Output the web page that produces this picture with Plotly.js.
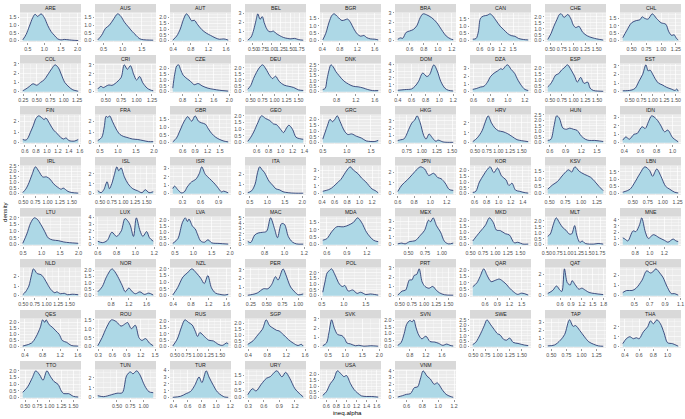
<!DOCTYPE html>
<html>
<head>
<meta charset="utf-8">
<script src="https://cdn.plot.ly/plotly-3.0.1.min.js"></script>
<style>body{margin:0;background:#fff;} #myDiv{width:685px;height:419px;}</style>
</head>
<body>
<div id="myDiv"></div>
<script>
// facet names, one density curve each
const countries = ['ARE','AUS','AUT','BEL','BGR','BRA','CAN','CHE','CHL',
  'COL','CRI','CZE','DEU','DNK','DOM','DZA','ESP','EST',
  'FIN','FRA','GBR','GEO','GRC','HKG','HRV','HUN','IDN',
  'IRL','ISL','ISR','ITA','JOR','JPN','KOR','KSV','LBN',
  'LTU','LUX','LVA','MAC','MDA','MEX','MKD','MLT','MNE',
  'NLD','NOR','NZL','PER','POL','PRT','QAR','QAT','QCH',
  'QES','ROU','RUS','SGP','SVK','SVN','SWE','TAP','THA',
  'TTO','TUN','TUR','URY','USA','VNM'];

const curveX = [
  [0.35,0.45,0.55,0.65,0.72,0.8,0.9,1.0,1.1,1.2,1.3,1.4,1.5,1.6,1.75,1.9,2.02],
  [0.35,0.45,0.55,0.65,0.75,0.87,0.95,1.05,1.15,1.25,1.35,1.45,1.55,1.7,1.8],
  [0.39,0.48,0.56,0.63,0.7,0.76,0.82,0.88,0.95,1.05,1.15,1.25,1.35,1.45,1.55,1.65],
  [0.36,0.45,0.52,0.58,0.63,0.69,0.75,0.8,0.87,0.93,1.0,1.05,1.12,1.22,1.32,1.42,1.52,1.62,1.72,1.85],
  [0.41,0.48,0.55,0.62,0.67,0.75,0.85,0.92,0.98,1.05,1.12,1.2,1.28,1.35,1.42,1.5,1.6,1.68],
  [0.43,0.47,0.5,0.55,0.6,0.65,0.7,0.75,0.79,0.84,0.91,0.98,1.07,1.12,1.18,1.22],
  [0.41,0.5,0.56,0.62,0.7,0.8,0.88,0.95,1.05,1.15,1.25,1.35,1.45,1.55,1.65,1.78,1.91],
  [0.45,0.52,0.58,0.65,0.7,0.74,0.8,0.88,0.95,1.0,1.05,1.12,1.2,1.3,1.4,1.5,1.64],
  [0.35,0.42,0.5,0.58,0.64,0.68,0.72,0.78,0.85,0.92,1.0,1.08,1.13,1.18,1.22,1.26,1.29],
  [0.24,0.3,0.36,0.43,0.5,0.57,0.64,0.7,0.78,0.84,0.9,0.96,1.02,1.1,1.17,1.27],
  [0.37,0.42,0.46,0.5,0.55,0.6,0.65,0.7,0.75,0.8,0.85,0.9,0.95,1.0,1.05,1.1,1.17,1.22,1.27],
  [0.55,0.6,0.65,0.7,0.75,0.82,0.92,1.0,1.1,1.2,1.3,1.45,1.6,1.75,1.97],
  [0.44,0.5,0.56,0.62,0.68,0.75,0.82,0.9,0.96,1.02,1.1,1.2,1.3,1.4,1.5,1.6],
  [0.51,0.56,0.6,0.64,0.68,0.73,0.78,0.85,0.95,1.05,1.15,1.25,1.35,1.45,1.55,1.67],
  [0.4,0.5,0.6,0.65,0.7,0.76,0.82,0.86,0.92,0.97,1.02,1.08,1.13,1.2],
  [0.59,0.63,0.68,0.72,0.76,0.8,0.85,0.88,0.92,0.94,0.98,1.0,1.04,1.08,1.12,1.16,1.2,1.24],
  [0.45,0.5,0.55,0.62,0.68,0.74,0.8,0.87,0.95,1.02,1.08,1.15,1.22,1.3,1.35,1.42,1.52,1.63],
  [0.35,0.45,0.55,0.62,0.7,0.78,0.85,0.9,0.94,1.0,1.05,1.12,1.2,1.3,1.4,1.48,1.52,1.55],
  [0.56,0.62,0.66,0.7,0.75,0.8,0.85,0.9,0.95,0.98,1.05,1.12,1.2,1.25,1.3,1.35,1.4,1.5,1.57],
  [0.44,0.55,0.62,0.67,0.72,0.77,0.85,0.95,1.05,1.15,1.25,1.4,1.55,1.7,1.85,1.98],
  [0.36,0.45,0.52,0.6,0.66,0.72,0.78,0.82,0.9,0.98,1.05,1.15,1.22,1.3,1.4,1.5,1.6,1.7],
  [0.45,0.5,0.55,0.62,0.68,0.75,0.82,0.88,0.93,1.0,1.05,1.1,1.14,1.2,1.26,1.32,1.38],
  [0.5,0.55,0.6,0.65,0.7,0.75,0.8,0.86,0.95,1.02,1.1,1.2,1.3,1.4,1.5,1.58,1.65],
  [0.6,0.65,0.7,0.74,0.78,0.84,0.88,0.92,0.97,1.03,1.07,1.12,1.17,1.23,1.27,1.35,1.42,1.52],
  [0.45,0.55,0.65,0.72,0.78,0.85,0.92,1.0,1.1,1.2,1.3,1.4,1.5,1.64],
  [0.56,0.62,0.68,0.73,0.78,0.85,0.92,0.98,1.05,1.12,1.2,1.28,1.35,1.45,1.55,1.62],
  [0.38,0.42,0.46,0.52,0.56,0.62,0.66,0.7,0.74,0.8,0.85,0.9,0.94,1.0,1.04,1.07],
  [0.49,0.55,0.6,0.68,0.75,0.82,0.9,0.98,1.05,1.12,1.2,1.28,1.32,1.42,1.5,1.63],
  [0.45,0.52,0.58,0.65,0.7,0.75,0.8,0.86,0.9,0.95,1.02,1.1,1.2,1.3,1.4,1.47,1.55,1.64],
  [0.14,0.17,0.22,0.28,0.33,0.38,0.45,0.52,0.58,0.62,0.68,0.75,0.82,0.88,0.95,0.98,1.06],
  [0.44,0.55,0.65,0.72,0.78,0.85,0.92,1.05,1.15,1.25,1.35,1.45,1.6,1.8,2.03],
  [0.41,0.5,0.55,0.62,0.7,0.75,0.8,0.85,0.9,0.98,1.03,1.1,1.2,1.25,1.3],
  [0.6,0.65,0.72,0.78,0.84,0.88,0.93,0.98,1.04,1.09,1.13,1.18,1.23,1.28],
  [0.57,0.62,0.68,0.75,0.8,0.86,0.92,0.98,1.05,1.12,1.17,1.22,1.28,1.35,1.42,1.49],
  [0.47,0.55,0.62,0.72,0.8,0.85,0.9,0.97,1.05,1.15,1.22,1.28,1.35],
  [0.33,0.45,0.52,0.62,0.7,0.78,0.83,0.9,0.97,1.05,1.12,1.2,1.26],
  [0.49,0.6,0.7,0.8,0.88,0.98,1.08,1.18,1.3,1.45,1.6,1.75,1.99],
  [0.6,0.65,0.7,0.75,0.8,0.85,0.89,0.94,0.98,1.01,1.05,1.08,1.12,1.15,1.19],
  [0.44,0.58,0.7,0.78,0.84,0.88,0.98,1.05,1.12,1.2,1.3,1.4,1.5,1.7,1.95],
  [0.63,0.66,0.7,0.74,0.78,0.82,0.86,0.9,0.93,0.97,1.0,1.04,1.08,1.12,1.19],
  [0.54,0.6,0.68,0.75,0.85,0.92,1.0,1.06,1.12,1.2,1.3,1.37],
  [0.34,0.4,0.45,0.52,0.6,0.68,0.74,0.8,0.83,0.87,0.92,0.98,1.04,1.1,1.17],
  [0.545,0.62,0.7,0.8,0.88,0.96,1.02,1.1,1.2,1.28,1.38,1.45,1.55,1.66],
  [0.52,0.58,0.66,0.72,0.8,0.88,0.95,1.02,1.08,1.15,1.2,1.27,1.33,1.4,1.6,1.7,1.82],
  [0.63,0.66,0.7,0.77,0.81,0.86,0.89,0.94,0.98,1.05,1.13,1.2,1.25,1.32,1.36,1.39],
  [0.49,0.55,0.62,0.68,0.72,0.8,0.88,0.95,1.02,1.1,1.18,1.22,1.3,1.38,1.45,1.55,1.68],
  [0.5,0.6,0.7,0.82,0.88,0.95,1.05,1.12,1.2,1.28,1.35,1.45,1.55,1.65,1.75],
  [0.39,0.5,0.62,0.72,0.82,0.92,1.02,1.1,1.18,1.26,1.35,1.45,1.55,1.64],
  [0.2,0.28,0.35,0.45,0.52,0.58,0.64,0.68,0.76,0.8,0.88,0.95,1.0,1.08],
  [0.52,0.57,0.62,0.67,0.72,0.8,0.9,0.97,1.02,1.1,1.2,1.3,1.38,1.5,1.6,1.7,1.78],
  [0.46,0.55,0.62,0.7,0.75,0.8,0.85,0.9,0.96,1.02,1.1,1.18,1.25,1.32,1.42,1.6],
  [0.3,0.4,0.48,0.57,0.65,0.75,0.85,0.95,1.05,1.12,1.2,1.3,1.4,1.5,1.66],
  [0.26,0.4,0.5,0.6,0.65,0.72,0.8,0.88,0.93,1.02,1.12,1.2,1.3,1.4,1.55,1.79],
  [0.35,0.4,0.47,0.52,0.6,0.66,0.71,0.74,0.78,0.83,0.87,0.93,0.98,1.02,1.07],
  [0.35,0.55,0.65,0.75,0.8,0.85,0.88,0.95,1.02,1.1,1.18,1.25,1.35,1.45,1.61],
  [0.29,0.38,0.48,0.58,0.68,0.78,0.88,0.92,1.0,1.08,1.16,1.22,1.3,1.38,1.46],
  [0.45,0.55,0.65,0.72,0.8,0.88,0.95,1.0,1.05,1.15,1.25,1.35,1.45,1.55,1.65,1.68],
  [0.39,0.5,0.6,0.7,0.78,0.85,0.92,1.0,1.05,1.15,1.25,1.35,1.45,1.52,1.56],
  [0.34,0.45,0.52,0.6,0.68,0.78,0.9,0.98,1.05,1.15,1.3,1.4,1.55,1.75,1.97],
  [0.5,0.58,0.66,0.72,0.8,0.86,0.9,0.95,1.02,1.1,1.2,1.3,1.42,1.52,1.62,1.72,1.8,1.88],
  [0.49,0.55,0.65,0.73,0.78,0.85,0.93,1.0,1.05,1.12,1.18,1.25,1.32,1.42,1.55,1.63],
  [0.44,0.55,0.65,0.72,0.8,0.86,0.9,0.97,1.05,1.12,1.2,1.28,1.36],
  [0.37,0.42,0.47,0.52,0.56,0.6,0.66,0.72,0.76,0.8,0.85,0.9,0.95,1.0,1.07,1.15],
  [0.45,0.55,0.65,0.72,0.8,0.87,0.95,1.02,1.1,1.18,1.25,1.3,1.4,1.5,1.6],
  [0.14,0.25,0.4,0.5,0.6,0.68,0.75,0.8,0.87,0.93,1.02,1.1,1.18],
  [0.39,0.5,0.58,0.64,0.7,0.76,0.8,0.86,0.9,0.96,1.02,1.08,1.12,1.17],
  [0.29,0.38,0.45,0.55,0.65,0.72,0.85,0.95,1.02,1.1,1.2,1.28,1.36],
  [0.53,0.6,0.68,0.75,0.82,0.9,0.95,1.0,1.08,1.15,1.22,1.3,1.4,1.5,1.63],
  [0.49,0.55,0.6,0.65,0.7,0.74,0.78,0.81,0.86,0.9,0.95,0.99,1.05,1.1,1.15,1.19]
];

const curveY = [
  [0.05,0.4,0.95,1.5,1.72,1.58,1.75,1.5,1.0,0.6,0.35,0.12,0.05,0.08,0.05,0.02,0.01],
  [0.05,0.35,0.8,1.0,1.35,1.75,1.6,1.2,0.9,0.6,0.35,0.12,0.06,0.04,0.03],
  [0.05,0.4,1.0,1.8,2.3,2.05,1.7,1.75,1.4,0.95,0.65,0.45,0.25,0.12,0.15,0.05],
  [0.05,0.4,1.2,2.2,2.95,2.35,2.65,2.0,1.3,1.0,1.0,1.05,0.8,0.55,0.35,0.25,0.2,0.25,0.12,0.05],
  [0.05,0.5,1.2,1.7,1.8,1.6,1.35,1.4,1.45,1.2,0.8,0.45,0.3,0.35,0.2,0.12,0.1,0.05],
  [0.15,0.3,0.25,0.9,1.05,1.2,1.6,2.5,2.9,2.8,2.5,2.0,1.0,0.5,0.2,0.1],
  [0.1,0.15,0.6,1.55,1.7,1.75,1.85,1.7,1.35,1.0,0.75,0.5,0.35,0.3,0.15,0.08,0.05],
  [0.1,0.6,1.2,1.8,2.2,2.25,1.95,2.2,1.8,1.3,1.1,1.2,0.7,0.4,0.25,0.15,0.05],
  [0.2,0.7,1.2,1.35,1.4,1.6,1.5,1.45,1.8,1.5,1.2,1.1,0.6,0.35,0.4,0.15,0.05],
  [0.1,0.3,0.55,0.85,0.7,1.0,1.3,1.8,2.5,2.9,2.6,1.8,1.0,0.5,0.2,0.05],
  [0.3,0.6,0.45,0.6,0.75,0.7,0.9,1.2,1.6,3.0,2.5,2.9,2.0,1.3,1.7,1.0,0.4,0.2,0.1],
  [0.3,1.5,2.2,2.3,1.9,1.4,1.1,0.9,0.6,0.7,0.5,0.3,0.2,0.12,0.05],
  [0.2,0.5,1.1,1.6,2.0,2.25,1.9,1.35,1.1,1.3,0.85,0.55,0.45,0.35,0.15,0.1],
  [0.2,0.3,1.2,2.0,2.5,2.3,1.9,1.5,1.0,0.7,0.5,0.45,0.35,0.2,0.1,0.1],
  [0.2,0.3,0.4,0.8,1.5,2.7,2.2,2.5,3.9,3.0,1.5,0.5,0.2,0.1],
  [0.3,0.4,0.6,0.7,1.2,2.0,2.5,2.7,3.0,2.9,3.4,3.5,2.9,2.4,1.5,0.8,0.3,0.15],
  [0.4,0.6,0.9,1.4,1.5,1.8,2.0,2.25,1.8,1.3,0.8,1.2,0.7,0.8,0.3,0.1,0.05,0.03],
  [0.1,0.12,0.2,0.4,1.2,2.0,3.1,2.4,2.5,2.0,1.5,1.0,0.8,0.5,0.3,0.15,0.3,0.05],
  [0.3,0.25,0.5,1.0,1.6,2.3,2.55,2.4,2.2,2.35,1.8,1.2,0.8,0.5,0.35,0.45,0.2,0.15,0.3],
  [0.2,0.5,1.5,2.5,2.4,2.55,2.0,1.3,0.8,0.6,0.5,0.35,0.3,0.2,0.1,0.1],
  [0.05,0.3,0.7,1.2,1.5,1.7,1.5,1.4,1.75,1.4,1.3,1.2,0.9,0.6,0.35,0.2,0.1,0.05],
  [0.1,0.4,0.8,1.5,2.0,1.8,1.65,1.4,1.35,1.0,0.75,1.1,1.3,1.0,0.4,0.3,0.25],
  [0.3,0.9,1.5,2.0,1.8,2.0,2.3,1.8,1.0,0.7,0.75,0.55,0.4,0.15,0.1,0.1,0.2],
  [0.3,0.4,0.5,1.0,1.8,2.8,3.1,3.7,2.8,1.0,0.5,1.2,0.7,0.2,0.35,0.1,0.05,0.05],
  [0.1,0.5,1.2,2.1,2.7,2.0,1.5,1.2,1.1,0.9,0.6,0.3,0.2,0.1],
  [0.2,0.3,1.5,2.4,2.2,1.3,1.2,1.3,1.2,1.1,0.6,0.3,0.2,0.2,0.15,0.1],
  [0.3,0.7,0.4,1.0,1.1,1.9,1.7,2.5,3.2,2.8,2.1,1.3,1.5,0.6,0.3,0.1],
  [0.1,0.4,0.8,1.7,2.4,2.0,1.5,1.5,1.3,0.9,0.6,0.4,0.5,0.2,0.1,0.05],
  [0.3,0.1,0.4,1.2,0.5,1.0,1.8,2.7,2.3,2.6,1.7,1.0,0.5,0.3,0.1,0.4,0.1,0.2],
  [0.6,0.9,0.5,0.1,0.2,0.8,1.4,1.7,2.4,3.2,2.3,1.8,1.3,0.8,0.2,0.3,0.1],
  [0.1,0.3,1.0,2.2,2.8,2.5,2.2,1.3,0.9,0.5,0.4,0.2,0.1,0.05,0.05],
  [0.3,0.5,0.7,1.2,1.8,2.4,3.0,3.4,3.0,2.5,2.0,1.5,0.6,0.4,0.1],
  [0.2,0.8,1.3,1.8,2.3,2.5,2.3,1.7,1.9,1.5,1.4,1.0,0.4,0.3],
  [0.1,0.2,1.0,1.6,2.0,2.3,1.8,2.2,1.5,1.2,0.7,0.9,0.3,0.2,0.1,0.05],
  [0.3,0.6,0.8,1.3,1.6,1.45,1.8,1.5,1.3,1.1,0.8,0.5,0.2],
  [0.1,0.3,0.7,1.4,1.85,1.6,1.2,1.7,1.2,0.5,0.3,0.1,0.05],
  [0.1,0.8,1.6,2.0,1.9,1.5,1.0,0.5,0.35,0.3,0.2,0.15,0.1],
  [0.5,0.3,0.6,1.8,1.2,2.0,3.8,3.0,1.2,3.9,2.0,1.2,1.9,1.0,0.5],
  [0.1,0.5,1.8,2.2,1.9,2.1,1.5,1.3,0.8,0.3,0.2,0.4,0.15,0.1,0.05],
  [0.6,0.4,1.8,2.2,2.3,2.5,5.0,3.0,1.3,3.9,3.8,1.5,0.5,0.15,0.1],
  [0.3,0.4,0.9,1.2,1.2,1.3,1.5,1.8,1.5,0.8,0.3,0.2],
  [0.1,0.2,0.1,0.4,0.5,1.2,1.8,3.1,2.9,3.4,2.4,1.6,0.4,0.1,0.2],
  [0.3,0.7,1.1,1.6,2.2,1.8,1.2,1.15,0.9,0.8,0.15,0.2,0.05,0.05],
  [0.7,0.9,1.8,2.25,1.8,1.4,1.2,0.9,0.9,1.6,0.8,0.2,0.3,0.1,0.05,0.1,0.05],
  [1.1,0.9,0.6,2.2,2.1,3.2,4.3,2.0,1.0,1.6,1.1,0.7,0.4,0.9,0.6,0.5],
  [0.1,0.4,1.0,2.2,2.8,2.3,2.2,1.8,1.2,0.6,0.3,0.4,0.2,0.25,0.1,0.15,0.1],
  [0.3,0.7,1.5,2.1,1.9,1.5,0.8,0.3,0.6,0.3,0.15,0.3,0.1,0.2,0.05],
  [0.05,0.6,1.4,1.7,2.0,1.7,1.3,0.9,1.5,0.6,0.2,0.1,0.05,0.1],
  [0.05,0.15,0.3,0.8,0.8,1.3,2.2,1.8,3.1,2.5,1.0,0.4,0.1,0.2],
  [0.3,1.2,2.0,2.2,2.35,1.8,1.0,0.8,0.9,0.4,0.5,0.2,0.3,0.1,0.15,0.1,0.05],
  [0.05,0.5,0.6,1.7,1.7,2.2,2.3,2.9,1.5,1.0,0.8,1.0,0.6,0.3,0.1,0.05],
  [0.7,1.0,1.5,2.1,1.6,1.1,1.2,1.3,1.1,0.9,0.6,0.3,0.1,0.2,0.05],
  [0.2,0.5,0.9,0.5,0.4,2.5,1.2,1.0,1.4,1.0,0.6,0.7,0.5,0.3,0.2,0.1],
  [0.3,0.5,0.5,0.7,1.5,2.4,2.2,2.3,2.6,2.2,1.8,0.8,0.2,0.2,0.05],
  [0.05,0.3,0.8,1.6,2.2,2.0,2.2,1.8,1.6,1.3,1.0,0.5,0.35,0.1,0.05],
  [0.05,0.5,1.1,1.5,1.4,1.15,1.3,1.35,1.0,1.2,0.5,0.35,0.45,0.2,0.05],
  [0.05,0.6,1.6,2.1,1.9,1.7,1.2,0.8,1.1,0.8,0.5,0.45,0.2,0.1,0.3,0.2],
  [0.2,0.5,1.0,1.5,2.3,1.8,1.6,1.4,1.35,1.0,0.6,0.3,0.1,0.2,0.05],
  [0.1,0.4,1.5,2.9,2.0,1.3,1.2,0.9,0.4,0.3,0.1,0.15,0.05,0.1,0.05],
  [0.1,0.3,1.0,1.7,2.0,1.9,2.05,1.5,0.9,0.6,0.8,0.4,0.35,0.25,0.1,0.2,0.1,0.05],
  [0.2,0.4,1.2,2.0,2.5,2.1,1.6,1.2,1.1,0.7,0.6,0.8,0.4,0.3,0.15,0.1],
  [0.1,0.2,0.8,1.5,3.3,2.5,2.6,2.0,1.2,0.6,0.3,0.1,0.05],
  [0.3,0.8,1.0,0.8,0.9,0.8,1.5,2.0,2.6,2.3,2.7,2.3,1.4,0.4,0.3,0.05],
  [0.4,0.8,1.5,2.0,1.7,1.3,2.0,1.6,1.2,1.0,0.5,0.3,0.3,0.1,0.05],
  [0.2,0.1,0.3,0.45,0.5,2.2,2.6,2.4,2.7,2.3,1.2,0.6,0.5],
  [0.05,0.2,0.6,0.9,1.8,3.0,2.2,3.9,3.0,1.8,0.8,0.3,0.1,0.05],
  [0.2,0.6,0.45,0.9,1.3,1.4,1.8,1.4,1.7,1.3,0.6,0.3,0.05],
  [0.2,0.5,1.2,1.6,2.3,2.0,1.8,1.9,1.2,0.7,0.4,0.15,0.1,0.1,0.05],
  [0.1,0.3,0.5,0.6,1.5,1.6,3.0,4.0,3.2,2.8,2.0,2.2,1.2,0.5,0.2,0.05]
];

// x axis breaks of every facet
const xTicks = [
  [0.5,1,1.5,2],[0.5,1,1.5],[0.4,0.8,1.2,1.6],[0.5,0.75,1,1.25,1.5,1.75],[0.4,0.8,1.2,1.6],[0.6,0.8,1,1.2],[0.6,0.9,1.2,1.5],[0.5,0.75,1,1.25,1.5],[0.5,0.75,1,1.25],
  [0.25,0.5,0.75,1,1.25],[0.5,0.75,1,1.25],[0.8,1.2,1.6,2],[0.5,0.75,1,1.25,1.5],[0.8,1.2,1.6],[0.4,0.6,0.8,1,1.2],[0.6,0.8,1,1.2],[0.5,0.75,1,1.25,1.5],[0.5,0.75,1,1.25,1.5],
  [0.6,0.8,1,1.2,1.4,1.6],[0.5,1,1.5,2],[0.6,0.9,1.2,1.5],[0.6,0.8,1,1.2,1.4],[0.5,1,1.5],[0.75,1,1.25,1.5],[0.5,0.75,1,1.25,1.5],[0.6,0.9,1.2,1.5],[0.4,0.6,0.8,1],
  [0.5,0.75,1,1.25,1.5],[0.5,0.75,1,1.25,1.5],[0.3,0.6,0.9],[0.5,1,1.5,2],[0.4,0.6,0.8,1,1.2],[0.6,0.8,1,1.2],[0.6,0.8,1,1.2,1.4],[0.5,0.75,1,1.25],[0.5,0.75,1,1.25],
  [0.5,1,1.5,2],[0.6,0.8,1,1.2],[0.5,1,1.5,2],[0.8,1,1.2],[0.6,0.9,1.2],[0.5,0.75,1],[0.5,0.75,1,1.25,1.5],[0.5,0.75,1,1.25,1.5,1.75],[0.8,1,1.2],
  [0.5,0.75,1,1.25,1.5],[0.8,1.2,1.6],[0.4,0.8,1.2,1.6],[0.25,0.5,0.75,1],[0.5,1,1.5],[0.5,0.75,1,1.25,1.5],[0.6,0.9,1.2,1.5],[0.6,0.9,1.2,1.5,1.8],[0.5,0.7,0.9,1.1],
  [0.4,0.8,1.2,1.6],[0.3,0.6,0.9,1.2,1.5],[0.5,0.75,1,1.25,1.5],[0.4,0.8,1.2,1.6],[0.5,1,1.5,2],[0.4,0.8,1.2,1.6],[0.5,0.75,1,1.25,1.5],[0.5,0.75,1,1.25],[0.4,0.6,0.8,1],
  [0.5,0.75,1,1.25,1.5],[0.5,0.75,1],[0.4,0.6,0.8,1,1.2],[0.3,0.6,0.9,1.2],[0.6,0.8,1,1.2,1.4,1.6],[0.6,0.8,1,1.2]
];

// y axis break step of every facet
const yStep = [
  0.5,0.5,0.5,1,0.5,1,0.5,0.5,0.5,
  1,1,0.5,0.5,0.5,1,1,0.5,1,
  1,1,0.5,0.5,0.5,1,1,0.5,1,
  0.5,1,1,1,1,1,0.5,0.5,0.5,
  0.5,1,0.5,1,0.5,1,0.5,0.5,1,
  1,0.5,0.5,1,0.5,1,0.5,1,1,
  0.5,0.5,0.5,0.5,1,0.5,0.5,1,1,
  0.5,1,1,0.5,0.5,1
];

const W = 685, H = 419;
const data = [];
const layout = {
  width: W, height: H,
  margin: {l: 0, r: 0, t: 0, b: 0},
  showlegend: false,
  paper_bgcolor: '#FFFFFF',
  plot_bgcolor: '#EBEBEB',
  font: {family: 'Liberation Sans, Arial, sans-serif', size: 5.2, color: '#4D4D4D'},
  shapes: [],
  annotations: []
};

const decimals = (step) => {
  if (Math.abs(step - Math.round(step)) < 1e-9) return 0;
  if (Math.abs(step * 10 - Math.round(step * 10)) < 1e-9) return 1;
  return 2;
};

countries.forEach((name, i) => {
  const r = Math.floor(i / 9), c = i % 9;
  const n = i === 0 ? '' : String(i + 1);
  const x = curveX[i], y = curveY[i];

  data.push({
    type: 'scatter', mode: 'lines',
    x: x, y: y,
    xaxis: 'x' + n, yaxis: 'y' + n,
    fill: 'tozeroy', fillcolor: '#ADD8E6',
    line: {color: '#1C2A66', width: 0.8, shape: 'spline', smoothing: 0.9},
    hoverinfo: 'skip'
  });

  const xmin = Math.min(...x), xmax = Math.max(...x);
  const pad = (xmax - xmin) * 0.05;
  const ymax = Math.max(...y);
  const ticks = xTicks[i];
  const xs = ticks.length > 1 ? ticks[1] - ticks[0] : 0.5;
  const xd = decimals(xs);
  const yd = decimals(yStep[i]);

  const left = (20 + 75 * c) / W, right = (81 + 75 * c) / W;
  const bottom = 42 + 51 * r, top = bottom - 29.5;

  layout['xaxis' + n] = {
    domain: [left, right], anchor: 'y' + n,
    range: [xmin - pad, xmax + pad],
    tickmode: 'array', tickvals: ticks, ticktext: ticks.map(v => v.toFixed(xd)),
    showgrid: true, gridcolor: '#FFFFFF', gridwidth: 0.6,
    minor: {tickmode: 'linear', tick0: ticks[0], dtick: xs / 2, showgrid: true, gridcolor: '#FFFFFF', gridwidth: 0.3, ticks: ''},
    zeroline: false, showline: false,
    ticks: 'outside', ticklen: 1.5, tickwidth: 0.5, tickcolor: '#333333',
    tickfont: {size: 5.2, color: '#4D4D4D'}, tickangle: 0,
    fixedrange: true
  };
  layout['yaxis' + n] = {
    domain: [1 - bottom / H, 1 - top / H], anchor: 'x' + n,
    range: [-0.05 * ymax, 1.05 * ymax],
    tickmode: 'linear', tick0: 0, dtick: yStep[i], tickformat: '.' + yd + 'f',
    showgrid: true, gridcolor: '#FFFFFF', gridwidth: 0.6,
    minor: {tickmode: 'linear', tick0: 0, dtick: yStep[i] / 2, showgrid: true, gridcolor: '#FFFFFF', gridwidth: 0.3, ticks: ''},
    zeroline: false, showline: false,
    ticks: 'outside', ticklen: 1.5, tickwidth: 0.5, tickcolor: '#333333',
    tickfont: {size: 5.2, color: '#4D4D4D'},
    fixedrange: true
  };

  // facet strip
  layout.shapes.push({
    type: 'rect', xref: 'paper', yref: 'paper',
    x0: left, x1: right, y0: 1 - top / H, y1: 1 - (top - 8.5) / H,
    fillcolor: '#D9D9D9', line: {width: 0}
  });
  layout.annotations.push({
    text: name, xref: 'paper', yref: 'paper',
    x: (left + right) / 2, y: 1 - (top - 4.25) / H,
    xanchor: 'center', yanchor: 'middle', showarrow: false,
    font: {size: 5.2, color: '#1A1A1A'}
  });
});

layout.annotations.push({
  text: 'density', xref: 'paper', yref: 'paper',
  x: 5 / W, y: 1 - 212 / H, textangle: -90,
  xanchor: 'center', yanchor: 'middle', showarrow: false,
  font: {size: 6.2, color: '#000000'}
});
layout.annotations.push({
  text: 'ineq.alpha', xref: 'paper', yref: 'paper',
  x: 347 / W, y: 1 - 412 / H,
  xanchor: 'center', yanchor: 'middle', showarrow: false,
  font: {size: 6.2, color: '#000000'}
});

const config = {staticPlot: true, displayModeBar: false};

Plotly.newPlot('myDiv', data, layout, config);
</script>
</body>
</html>
